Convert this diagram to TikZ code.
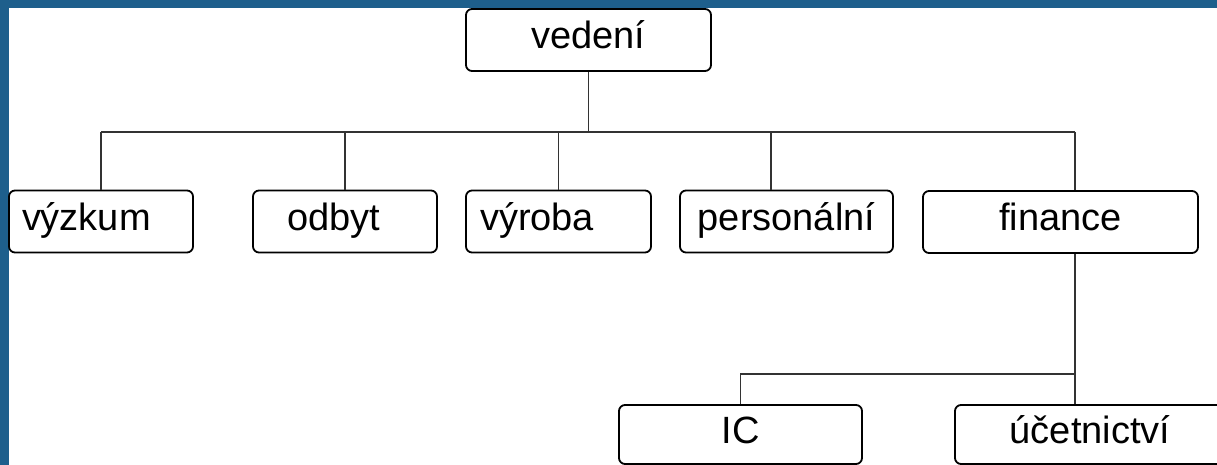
\documentclass[tikz,border=0pt]{standalone}
\usepackage{fontspec}
\setmainfont{Liberation Sans}
\usepackage{xcolor}
\usepackage{tikz}
\usetikzlibrary{positioning}
\definecolor{frameblue}{RGB}{30,95,140}
\tikzstyle{box} = [draw, line width=0.9pt, rounded corners=3pt, minimum height=31pt, inner sep=0pt, text height=13pt, text depth=4pt, font=\fontsize{19}{23}\selectfont]
\tikzstyle{leftbox} = [box, align=left, inner xsep=6.5pt]
\tikzstyle{line} = [line width=0.9pt, draw=black!80]

\begin{document}
\begin{tikzpicture}[x=0.5pt,y=-0.5pt]
			
			%Background
			\useasboundingbox (0,0) rectangle (1217,465);
			\clip (0,0) rectangle (1217,465);
			\fill [white] (0,0) rectangle (1217,465);
			\fill [frameblue] (0,0) rectangle (9,465);
			\fill [frameblue] (0,0) rectangle (1217,8.5);
			
			% Boxes:
			\node [box, minimum width=122.5pt] (vedeni) at (588.5,40) {vedení};
			
			\node [leftbox, text width=79pt] (vyzkum) at (101,221.5) {výzkum};
			\node [leftbox, inner xsep=17pt, text width=58pt] (odbyt) at (345,221.5) {odbyt};
			\node [leftbox, inner xsep=7pt, text width=78.5pt] (vyroba) at (558.5,221.5) {výroba};
			\node [box, minimum width=106.5pt] (personalni) at (786.5,221.5) {personální};
			\node [box, minimum width=137.5pt] (finance) at (1060.5,222) {finance};
			
			\node [box, minimum width=121.5pt, minimum height=29.5pt] (ic) at (740.5,434.5) {IC};
			\node [box, minimum width=135pt, minimum height=29.5pt] (ucetnictvi) at (1090,434.5) {účetnictví};
			
			% Connectors:
			% Bus lines are named coordinates, the drops go from them to the boxes
			\coordinate (bus) at (588,132);
			\coordinate (pdrop) at (771,132);
			\coordinate (fdrop) at (1075,132);
			\coordinate (bus2) at (1075,374);
			
			\draw [line] (vedeni.south) -- (vedeni.south |- bus);
			\draw [line] (vyzkum.north |- bus) -- (fdrop);
			\draw [line] (vyzkum.north) -- (vyzkum.north |- bus);
			\draw [line] (odbyt.north) -- (odbyt.north |- bus);
			\draw [line] (vyroba.north) -- (vyroba.north |- bus);
			\draw [line] (pdrop) -- (pdrop |- personalni.north);
			\draw [line] (fdrop) -- (fdrop |- finance.north);
			
			\draw [line] (fdrop |- finance.south) -- (fdrop |- ucetnictvi.north);
			\draw [line] (bus2) -| (ic.north);
			
\end{tikzpicture}
\end{document}
